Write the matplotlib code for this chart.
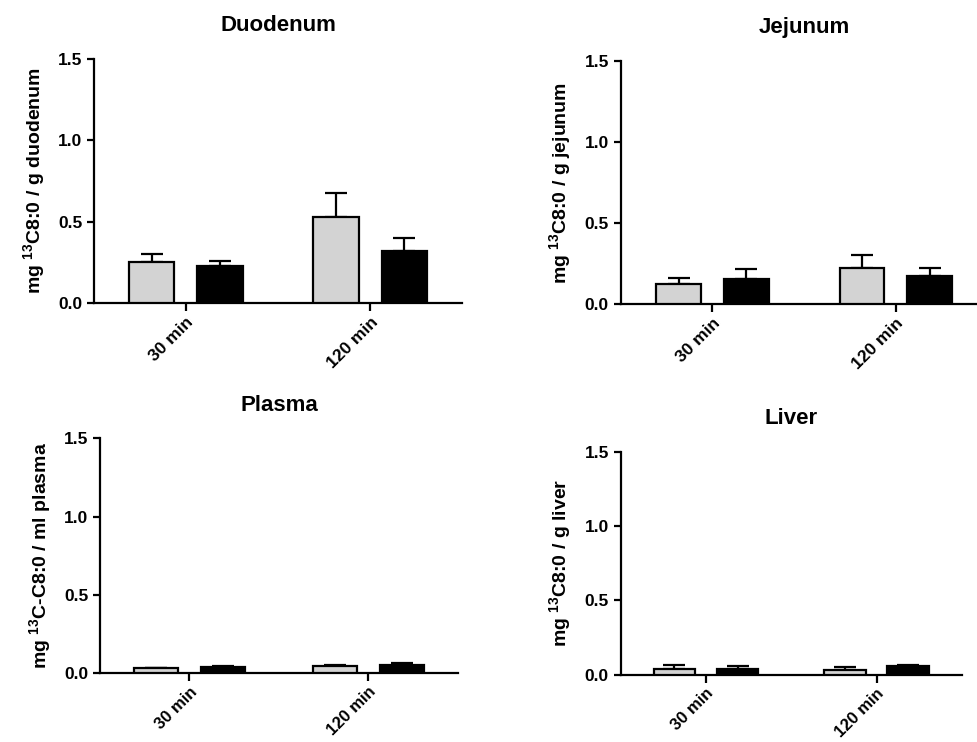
import matplotlib
matplotlib.use("Agg")
import matplotlib.pyplot as plt
import numpy as np

plt.rcParams.update({
    "font.family": ["Liberation Sans", "DejaVu Sans"],
    "font.weight": "bold",
    "mathtext.fontset": "custom",
    "mathtext.rm": "Liberation Sans:bold",
    "mathtext.bf": "Liberation Sans:bold",
    "mathtext.default": "rm",
    "axes.linewidth": 1.6,
    "axes.spines.top": False, "axes.spines.right": False,
})

GRAY, BLACK = "#d3d3d3", "#000000"

times = ["30 min", "120 min"]

# mean values (light bars / dark bars) and SEM (upper only)
duo_light = [0.25, 0.53]
duo_light_err = [0.05, 0.145]
duo_dark = [0.23, 0.32]
duo_dark_err = [0.03, 0.08]

jej_light = [0.125, 0.226]
jej_light_err = [0.04, 0.08]
jej_dark = [0.156, 0.176]
jej_dark_err = [0.06, 0.046]

pla_light = [0.031, 0.042]
pla_light_err = [0.004, 0.008]
pla_dark = [0.038, 0.053]
pla_dark_err = [0.009, 0.010]

liv_light = [0.04, 0.031]
liv_light_err = [0.022, 0.017]
liv_dark = [0.035, 0.057]
liv_dark_err = [0.02, 0.011]

panels = [
    ("Duodenum", "mg $^{13}$C8:0 / g duodenum", duo_light, duo_light_err, duo_dark, duo_dark_err,
     [0.0961, 0.5916, 0.3763, 0.3288], 12.5),
    ("Jejunum", "mg $^{13}$C8:0 / g jejunum", jej_light, jej_light_err, jej_dark, jej_dark_err,
     [0.6347, 0.5899, 0.3752, 0.3279], 12.5),
    ("Plasma", "mg $^{13}$C-C8:0 / ml plasma", pla_light, pla_light_err, pla_dark, pla_dark_err,
     [0.1022, 0.0930, 0.3661, 0.3163], 12),
    ("Liver", "mg $^{13}$C8:0 / g liver", liv_light, liv_light_err, liv_dark, liv_dark_err,
     [0.6347, 0.0908, 0.3487, 0.3004], 12),
]

fig = plt.figure(figsize=(9.78, 7.42), dpi=100)
x = np.arange(len(times))
w, off = 0.245, 0.185

for title, ylabel, lt, lte, dk, dke, pos, xfs in panels:
    ax = fig.add_axes(pos)
    for vals, errs, col, sign in [(lt, lte, GRAY, -1), (dk, dke, BLACK, 1)]:
        xs = x + sign * off
        ax.errorbar(xs, vals, yerr=[np.zeros(len(errs)), errs], fmt="none",
                    ecolor="black", elinewidth=1.6, capsize=8, capthick=1.6, zorder=2)
        ax.bar(xs, vals, width=w, color=col, edgecolor="black", linewidth=1.6, zorder=3)
    ax.set_xlim(-0.5, 1.5)
    ax.set_ylim(0, 1.5)
    ax.set_yticks([0.0, 0.5, 1.0, 1.5])
    ax.yaxis.set_major_formatter(lambda v, _: f"{v:.1f}")
    ax.set_xticks(x)
    ax.set_xticklabels(times, rotation=45, ha="right", rotation_mode="anchor", fontsize=xfs)
    ax.tick_params(axis="y", labelsize=12.5, width=1.6, length=5)
    ax.tick_params(axis="x", width=1.6, length=6, pad=2)
    ax.set_ylabel(ylabel, fontsize=14, fontweight="bold", labelpad=8)
    ax.set_title(title, fontsize=16, fontweight="bold", pad=20)

fig.savefig("out.png", dpi=100)
